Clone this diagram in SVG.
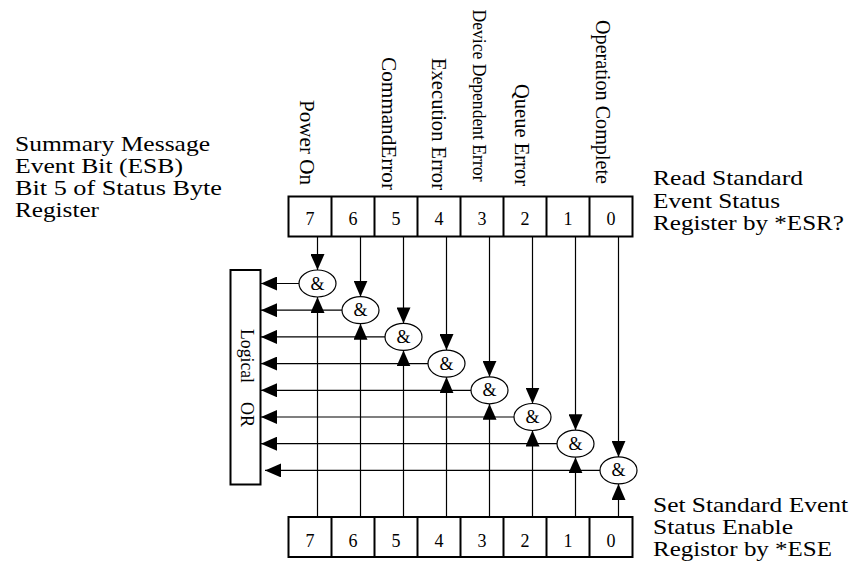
<svg xmlns="http://www.w3.org/2000/svg" width="853" height="566" viewBox="0 0 853 566">
<style>
text{font-family:"Liberation Serif","Times New Roman",serif;fill:#000}
.lbl{font-size:22px}
.vl{font-size:20px}
.dig{font-size:18px;text-anchor:middle}
.amp{font-size:18px;text-anchor:middle}
.reg{fill:#fff;stroke:#000;stroke-width:2}
.cell{stroke:#000;stroke-width:2}
.gate ellipse{fill:#fff;stroke:#000;stroke-width:1.2}
.wire{stroke:#000;stroke-width:1.2;fill:none}
.arr{marker-end:url(#ah)}
</style>
<defs>
<marker id="ah" markerWidth="16" markerHeight="14" refX="16" refY="7" orient="auto" markerUnits="userSpaceOnUse">
<path d="M0,0 L16,7 L0,14 Z" fill="#000"/>
</marker>
</defs>
<rect width="853" height="566" fill="#fff"/>

<g id="label-left">
<text class="lbl" x="15" y="150.5" textLength="195" lengthAdjust="spacingAndGlyphs">Summary Message</text>
<text class="lbl" x="15" y="172.5" textLength="168" lengthAdjust="spacingAndGlyphs">Event Bit (ESB)</text>
<text class="lbl" x="15" y="195" textLength="207" lengthAdjust="spacingAndGlyphs">Bit 5 of Status Byte</text>
<text class="lbl" x="15" y="217" textLength="84" lengthAdjust="spacingAndGlyphs">Register</text>
</g>
<g id="label-esr">
<text class="lbl" x="653" y="185" textLength="150" lengthAdjust="spacingAndGlyphs">Read Standard</text>
<text class="lbl" x="653" y="207.5" textLength="127" lengthAdjust="spacingAndGlyphs">Event Status</text>
<text class="lbl" x="653" y="230" textLength="191" lengthAdjust="spacingAndGlyphs">Register by *ESR?</text>
</g>
<g id="label-ese">
<text class="lbl" x="653" y="511.5" textLength="195" lengthAdjust="spacingAndGlyphs">Set Standard Event</text>
<text class="lbl" x="653" y="534" textLength="140" lengthAdjust="spacingAndGlyphs">Status Enable</text>
<text class="lbl" x="653" y="556" textLength="179" lengthAdjust="spacingAndGlyphs">Registor by *ESE</text>
</g>

<g id="bit-labels">
<text class="vl" transform="translate(299.5,100) rotate(90)" textLength="85" lengthAdjust="spacingAndGlyphs">Power On</text>
<text class="vl" transform="translate(382,57) rotate(90)" textLength="133" lengthAdjust="spacingAndGlyphs">CommandError</text>
<text class="vl" transform="translate(432,58) rotate(90)" textLength="132" lengthAdjust="spacingAndGlyphs">Execution Error</text>
<text class="vl" style="font-size:18px" transform="translate(472.5,9.5) rotate(90)" textLength="172" lengthAdjust="spacingAndGlyphs">Device Dependent Error</text>
<text class="vl" transform="translate(514.5,84) rotate(90)" textLength="102" lengthAdjust="spacingAndGlyphs">Queue Error</text>
<text class="vl" transform="translate(595.5,20) rotate(90)" textLength="164" lengthAdjust="spacingAndGlyphs">Operation Complete</text>
</g>

<g id="esr-register">
<rect class="reg" x="288.5" y="196.5" width="344" height="40"/>
<path class="cell" d="M331.5,196.5V236.5M374.5,196.5V236.5M417.5,196.5V236.5M460.5,196.5V236.5M503.5,196.5V236.5M546.5,196.5V236.5M589.5,196.5V236.5"/>
<text class="dig" x="310" y="225">7</text>
<text class="dig" x="353" y="225">6</text>
<text class="dig" x="396" y="225">5</text>
<text class="dig" x="439" y="225">4</text>
<text class="dig" x="482" y="225">3</text>
<text class="dig" x="525" y="225">2</text>
<text class="dig" x="568" y="225">1</text>
<text class="dig" x="611" y="225">0</text>
</g>

<g id="ese-register">
<rect class="reg" x="288.5" y="517" width="344" height="40"/>
<path class="cell" d="M331.5,517V557M374.5,517V557M417.5,517V557M460.5,517V557M503.5,517V557M546.5,517V557M589.5,517V557"/>
<text class="dig" x="310" y="547">7</text>
<text class="dig" x="353" y="547">6</text>
<text class="dig" x="396" y="547">5</text>
<text class="dig" x="439" y="547">4</text>
<text class="dig" x="482" y="547">3</text>
<text class="dig" x="525" y="547">2</text>
<text class="dig" x="568" y="547">1</text>
<text class="dig" x="611" y="547">0</text>
</g>

<g id="logical-or">
<rect class="reg" x="230.5" y="270" width="30" height="214.5"/>
<text class="vl" style="font-size:18px" transform="translate(241,329) rotate(90)"><tspan x="0" textLength="54" lengthAdjust="spacingAndGlyphs">Logical</tspan><tspan x="73">OR</tspan></text>
</g>

<g id="connectors">
<path class="wire arr" d="M317.5,236.5V270"/>
<path class="wire arr" d="M360.5,236.5V296.7"/>
<path class="wire arr" d="M403.5,236.5V323.4"/>
<path class="wire arr" d="M446.5,236.5V350.1"/>
<path class="wire arr" d="M489.5,236.5V376.8"/>
<path class="wire arr" d="M532.5,236.5V403.5"/>
<path class="wire arr" d="M575.5,236.5V430.2"/>
<path class="wire arr" d="M618.5,236.5V456.9"/>
<path class="wire arr" d="M317.5,517V297"/>
<path class="wire arr" d="M360.5,517V323.7"/>
<path class="wire arr" d="M403.5,517V350.4"/>
<path class="wire arr" d="M446.5,517V377.1"/>
<path class="wire arr" d="M489.5,517V403.8"/>
<path class="wire arr" d="M532.5,517V430.5"/>
<path class="wire arr" d="M575.5,517V457.2"/>
<path class="wire arr" d="M618.5,517V483.9"/>
<path class="wire arr" d="M299,283.5H261"/>
<path class="wire arr" d="M342,310.2H261"/>
<path class="wire arr" d="M385,336.9H261"/>
<path class="wire arr" d="M428,363.6H261"/>
<path class="wire arr" d="M471,390.3H261"/>
<path class="wire arr" d="M514,417H261"/>
<path class="wire arr" d="M557,443.7H261"/>
<path class="wire arr" d="M600,470.4H265"/>
</g>

<g id="gate-7" class="gate"><ellipse cx="317.5" cy="283.5" rx="18.5" ry="13.5"/><text class="amp" x="317.5" y="289.5">&amp;</text></g>
<g id="gate-6" class="gate"><ellipse cx="360.5" cy="310.2" rx="18.5" ry="13.5"/><text class="amp" x="360.5" y="316.2">&amp;</text></g>
<g id="gate-5" class="gate"><ellipse cx="403.5" cy="336.9" rx="18.5" ry="13.5"/><text class="amp" x="403.5" y="342.9">&amp;</text></g>
<g id="gate-4" class="gate"><ellipse cx="446.5" cy="363.6" rx="18.5" ry="13.5"/><text class="amp" x="446.5" y="369.6">&amp;</text></g>
<g id="gate-3" class="gate"><ellipse cx="489.5" cy="390.3" rx="18.5" ry="13.5"/><text class="amp" x="489.5" y="396.3">&amp;</text></g>
<g id="gate-2" class="gate"><ellipse cx="532.5" cy="417" rx="18.5" ry="13.5"/><text class="amp" x="532.5" y="423">&amp;</text></g>
<g id="gate-1" class="gate"><ellipse cx="575.5" cy="443.7" rx="18.5" ry="13.5"/><text class="amp" x="575.5" y="449.7">&amp;</text></g>
<g id="gate-0" class="gate"><ellipse cx="618.5" cy="470.4" rx="18.5" ry="13.5"/><text class="amp" x="618.5" y="476.4">&amp;</text></g>
</svg>
